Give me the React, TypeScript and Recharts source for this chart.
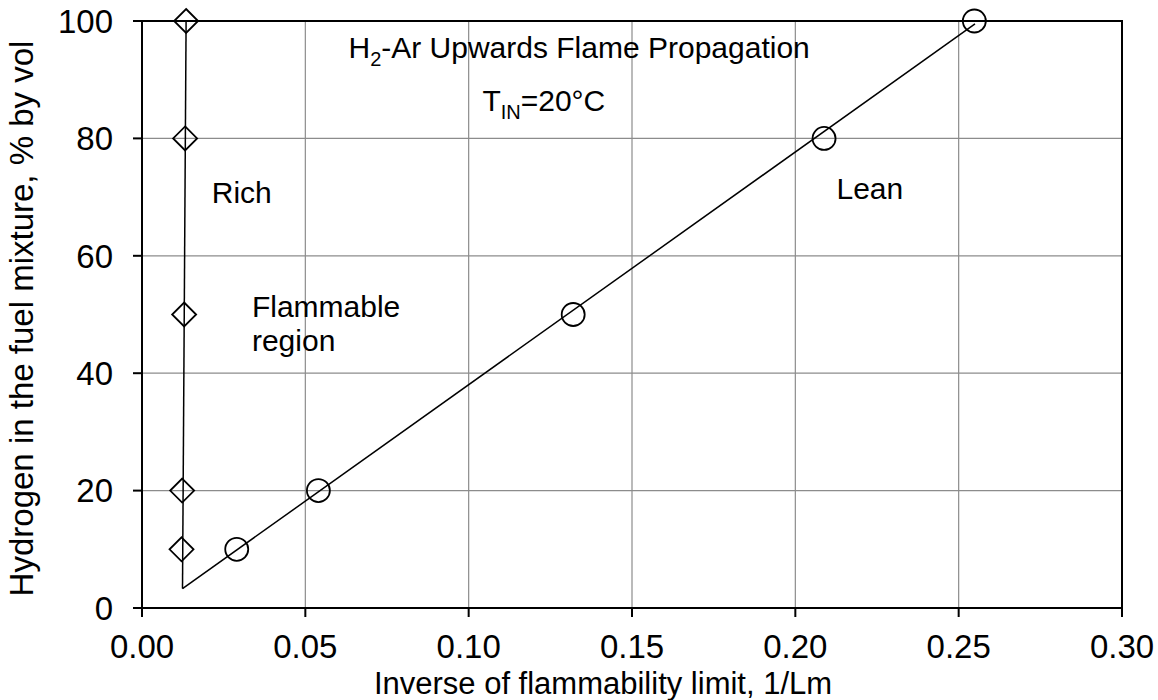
import React from 'react';
import { ScatterChart, Scatter, XAxis, YAxis, CartesianGrid, ReferenceArea, ReferenceDot } from 'recharts';

const FONT = '"Liberation Sans", Arial, sans-serif';

const xTicks = [0, 0.05, 0.1, 0.15, 0.2, 0.25, 0.3];
const yTicks = [0, 20, 40, 60, 80, 100];

// rich limit (diamonds) and lean limit (circles)
const richPoints = [
  { x: 0.0121, y: 10 },
  { x: 0.0123, y: 20 },
  { x: 0.0129, y: 50 },
  { x: 0.0132, y: 80 },
  { x: 0.0135, y: 100 },
];
const leanPoints = [
  { x: 0.029, y: 10 },
  { x: 0.054, y: 20 },
  { x: 0.132, y: 50 },
  { x: 0.2088, y: 80 },
  { x: 0.2548, y: 100 },
];

// fitted lines, meeting near the bottom
const richFit = [
  { x: 0.0135, y: 100 },
  { x: 0.0124, y: 3.3 },
];
const leanFit = [
  { x: 0.0124, y: 3.3 },
  { x: 0.255, y: 99.5 },
];

const xTitle = 'Inverse of flammability limit, 1/Lm';
const yTitle = 'Hydrogen in the fuel mixture, % by vol';

const Diamond = (props: any) => {
  const { cx, cy } = props;
  const s = 12;
  return (
    <path
      d={`M${cx},${cy - s}L${cx + s},${cy}L${cx},${cy + s}L${cx - s},${cy}Z`}
      fill="none"
      stroke="#000"
      strokeWidth={1.8}
    />
  );
};

const Ring = (props: any) => {
  const { cx, cy } = props;
  return <circle cx={cx} cy={cy} r={11.5} fill="none" stroke="#000" strokeWidth={1.8} />;
};

const NoMark = () => <g />;

const textAt = (children: React.ReactNode) => (props: any) => {
  const vb = props.viewBox;
  const x = vb.x + vb.width / 2;
  const y = vb.y + vb.height / 2;
  return (
    <text x={x} y={y} fontFamily={FONT} fontSize={30} fill="#000">
      {children}
    </text>
  );
};

export default function App() {
  const notes = [
    {
      x: 0.0632,
      y: 93.75,
      content: (
        <>
          H<tspan fontSize={20} dy={8}>2</tspan>
          <tspan dy={-8}>-Ar Upwards Flame Propagation</tspan>
        </>
      ),
    },
    {
      x: 0.1042,
      y: 84.6,
      content: (
        <>
          T<tspan fontSize={20} dy={8}>IN</tspan>
          <tspan dy={-8}>=20°C</tspan>
        </>
      ),
    },
    { x: 0.02135, y: 69.0, content: 'Rich' },
    { x: 0.03365, y: 49.6, content: 'Flammable' },
    { x: 0.03365, y: 43.8, content: 'region' },
    { x: 0.2126, y: 69.6, content: 'Lean' },
  ];

  return (
    <div style={{ position: 'absolute', left: 0, top: 0, background: '#fff' }}>
      <ScatterChart width={1158} height={700} margin={{ top: 21, right: 36, bottom: 0, left: 0 }}>
        <CartesianGrid stroke="#8c8c8c" strokeWidth={1.2} />
        <XAxis
          type="number"
          dataKey="x"
          domain={[0, 0.3]}
          ticks={xTicks}
          interval={0}
          height={92}
          tickFormatter={(v) => v.toFixed(2)}
          axisLine={{ stroke: '#000', strokeWidth: 2 }}
          tickLine={{ stroke: '#000', strokeWidth: 2 }}
          tickSize={9}
          tickMargin={18}
          tick={{ fill: '#000', fontSize: 33, fontFamily: FONT }}
          label={{
            content: () => (
              <text x={603} y={694} textAnchor="middle" fontFamily={FONT} fontSize={31} fill="#000">
                {xTitle}
              </text>
            ),
          }}
        />
        <YAxis
          type="number"
          dataKey="y"
          domain={[0, 100]}
          ticks={yTicks}
          interval={0}
          width={142}
          axisLine={{ stroke: '#000', strokeWidth: 2 }}
          tickLine={{ stroke: '#000', strokeWidth: 2 }}
          tickSize={9}
          tickMargin={20}
          tick={{ fill: '#000', fontSize: 33, fontFamily: FONT }}
          label={{
            content: (p: any) => {
              const vb = p.viewBox;
              const x = vb.x + 33;
              const y = vb.y + vb.height / 2 + 4;
              return (
                <text
                  x={x}
                  y={y}
                  transform={`rotate(-90, ${x}, ${y})`}
                  textAnchor="middle"
                  fontFamily={FONT}
                  fontSize={33}
                  fill="#000"
                >
                  {yTitle}
                </text>
              );
            },
          }}
        />
        <ReferenceArea x1={0} x2={0.3} y1={0} y2={100} fill="none" stroke="#000" strokeWidth={2} />
        <Scatter data={richFit} line={{ stroke: '#000', strokeWidth: 1.5 }} shape={NoMark} isAnimationActive={false} />
        <Scatter data={leanFit} line={{ stroke: '#000', strokeWidth: 1.5 }} shape={NoMark} isAnimationActive={false} />
        <Scatter data={richPoints} shape={Diamond} isAnimationActive={false} />
        <Scatter data={leanPoints} shape={Ring} isAnimationActive={false} />
        {notes.map((n, i) => (
          <ReferenceDot
            key={i}
            x={n.x}
            y={n.y}
            r={1}
            fill="none"
            stroke="none"
            label={{ content: textAt(n.content) }}
          />
        ))}
      </ScatterChart>
    </div>
  );
}
